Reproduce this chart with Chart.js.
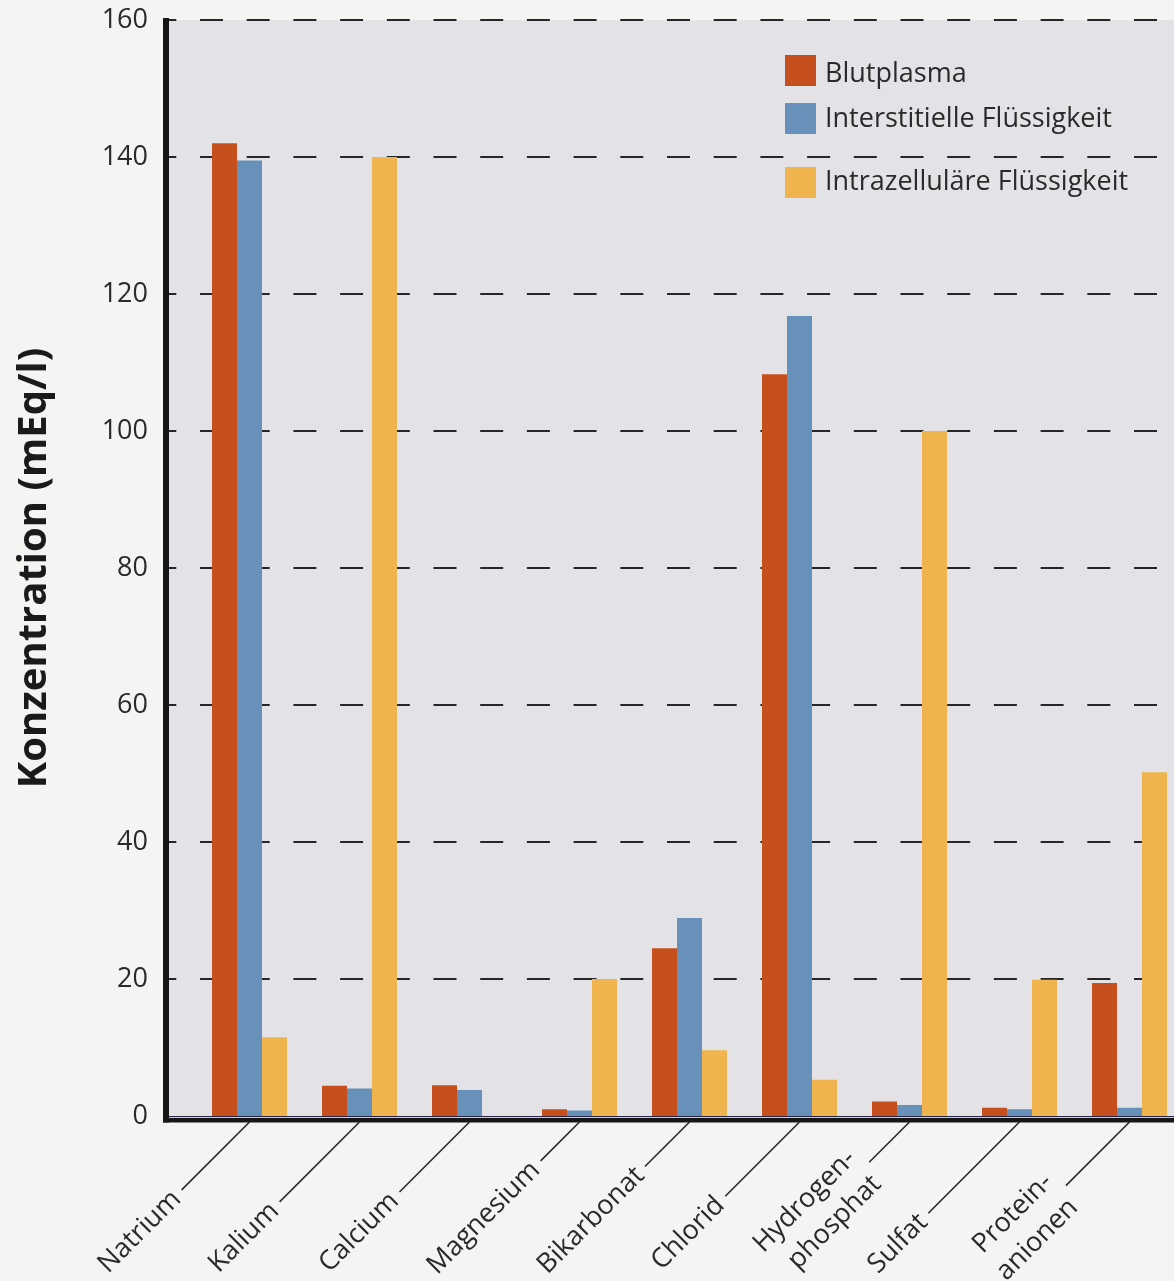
<!DOCTYPE html>
<html><head><meta charset="utf-8">
<script src="https://cdn.jsdelivr.net/npm/chart.js@4.4.1/dist/chart.umd.min.js"></script>
<style>
html,body{margin:0;padding:0;overflow:hidden;background:#f4f4f2;width:1174px;height:1281px}
canvas{display:block}
</style></head><body>
<canvas id="c" width="1190" height="1281"></canvas>
<script>
// ---- data ----
const categories = [["Natrium"],["Kalium"],["Calcium"],["Magnesium"],["Bikarbonat"],["Chlorid"],["Hydrogen-","phosphat"],["Sulfat"],["Protein-","anionen"]];
const seriesNames = ["Blutplasma","Interstitielle Flüssigkeit","Intrazelluläre Flüssigkeit"];
const blutplasma     = [142, 4.4, 4.5, 1.0, 24.5, 108.3, 2.1, 1.2, 19.4];
const interstitiell  = [139.5, 4.0, 3.8, 0.8, 28.9, 116.8, 1.6, 1.0, 1.2];
const intrazellulaer = [11.5, 140, 0, 20, 9.6, 5.3, 100, 19.9, 50.2];
const yTicks = [0,20,40,60,80,100,120,140,160];
const yTitle = "Konzentration (mEq/l)";

// ---- layout / style (not data) ----
const colors = ['#c6501d','#6891ba','#efb44d'];
const leaderLengths = [96,113,99,55,63,105,57,129,90];
const AXIS_X = 163;
const FONT = "'Open Sans', 'Noto Sans', sans-serif";

const decor = {
  id: 'decor',
  beforeDraw(chart) {
    const {ctx, scales:{y}} = chart;
    ctx.save();
    ctx.fillStyle = '#f4f4f2';
    ctx.fillRect(0,0,chart.width,chart.height);
    const top = y.getPixelForValue(yTicks[yTicks.length-1]);
    const bottom = y.getPixelForValue(0);
    ctx.fillStyle = '#e3e2e7';
    ctx.fillRect(AXIS_X, top, chart.width-AXIS_X, bottom-top);
    ctx.strokeStyle = '#262626';
    ctx.lineWidth = 2;
    ctx.setLineDash([23, 23.7]);
    ctx.lineDashOffset = 9.7;
    yTicks.forEach(v => {
      if (v === 0) return;
      const py = Math.round(y.getPixelForValue(v));
      ctx.beginPath(); ctx.moveTo(AXIS_X, py); ctx.lineTo(chart.width, py); ctx.stroke();
    });
    ctx.restore();
  },
  afterDatasetsDraw(chart) {
    const {ctx, scales:{y}} = chart;
    const top = y.getPixelForValue(yTicks[yTicks.length-1]);
    const bottom = y.getPixelForValue(0);
    ctx.save();
    ctx.fillStyle = '#2a2748';
    ctx.fillRect(AXIS_X, bottom, chart.width-AXIS_X, 1.2);
    ctx.fillStyle = '#161616';
    ctx.fillRect(AXIS_X, bottom+2, chart.width-AXIS_X, 4.5);
    ctx.fillRect(AXIS_X, top-2, 6, bottom+6.5-(top-2));
    ctx.restore();
  },
  afterDraw(chart) {
    const {ctx, scales:{x, y}} = chart;
    const bottom = y.getPixelForValue(0) + 6;
    const c = Math.SQRT1_2;
    ctx.save();
    // category labels with leader lines
    ctx.font = "27px " + FONT;
    ctx.fillStyle = '#2a2a2a';
    ctx.strokeStyle = '#2a2a2a';
    ctx.lineWidth = 1.6;
    categories.forEach((lab, i) => {
      const cx = x.getPixelForValue(i);
      const L = leaderLengths[i];
      const ex = cx - L*c, ey = bottom + L*c;
      ctx.beginPath(); ctx.moveTo(cx, bottom); ctx.lineTo(ex, ey); ctx.stroke();
      const g = 7;
      ctx.save();
      ctx.translate(ex - g*c, ey + g*c);
      ctx.rotate(-Math.PI/4);
      ctx.textAlign = 'right';
      ctx.textBaseline = 'middle';
      const lh = 36;
      lab.forEach((t, k) => {
        ctx.fillText(t, 0, (k - (lab.length-1)/2) * lh);
      });
      ctx.restore();
    });
    // legend
    const boxes = [[785,55],[785,103],[785,167]];
    const baselines = [82,127,190];
    ctx.font = "27px " + FONT;
    ctx.textAlign = 'left';
    ctx.textBaseline = 'alphabetic';
    chart.data.datasets.forEach((ds, i) => {
      ctx.fillStyle = ds.backgroundColor;
      ctx.fillRect(boxes[i][0], boxes[i][1], 31, 31);
      ctx.fillStyle = '#2a2a2a';
      ctx.fillText(ds.label, 825, baselines[i]);
    });
    ctx.restore();
  }
};

new Chart(document.getElementById('c'), {
  type: 'bar',
  data: {
    labels: categories,
    datasets: [
      {label: seriesNames[0], data: blutplasma, backgroundColor: colors[0]},
      {label: seriesNames[1], data: interstitiell, backgroundColor: colors[1]},
      {label: seriesNames[2], data: intrazellulaer, backgroundColor: colors[2]}
    ]
  },
  options: {
    responsive: false,
    animation: false,
    devicePixelRatio: 1,
    layout: {padding: {top: 20, right: 5.5, bottom: 165, left: 0}},
    datasets: {bar: {categoryPercentage: 75/110, barPercentage: 1, borderWidth: 0}},
    plugins: {legend: {display: false}, tooltip: {enabled: false}},
    scales: {
      x: {display: false, offset: true},
      y: {
        min: 0, max: 160,
        afterFit(s) { s.width = 194.5; s.paddingTop = 0; s.paddingBottom = 0; },
        afterBuildTicks(s) { s.ticks = yTicks.map(v => ({value: v})); },
        grid: {display: false, drawTicks: false, tickLength: 0},
        border: {display: false},
        ticks: {padding: 46.5, color: '#2a2a2a', font: {family: FONT, size: 27}},
        title: {display: true, text: yTitle, color: '#1a1a1a',
                font: {family: FONT, size: 40, weight: 'bold', lineHeight: 1.2},
                padding: {top: 11, bottom: 0}}
      }
    }
  },
  plugins: [decor]
});
</script>
</body></html>
